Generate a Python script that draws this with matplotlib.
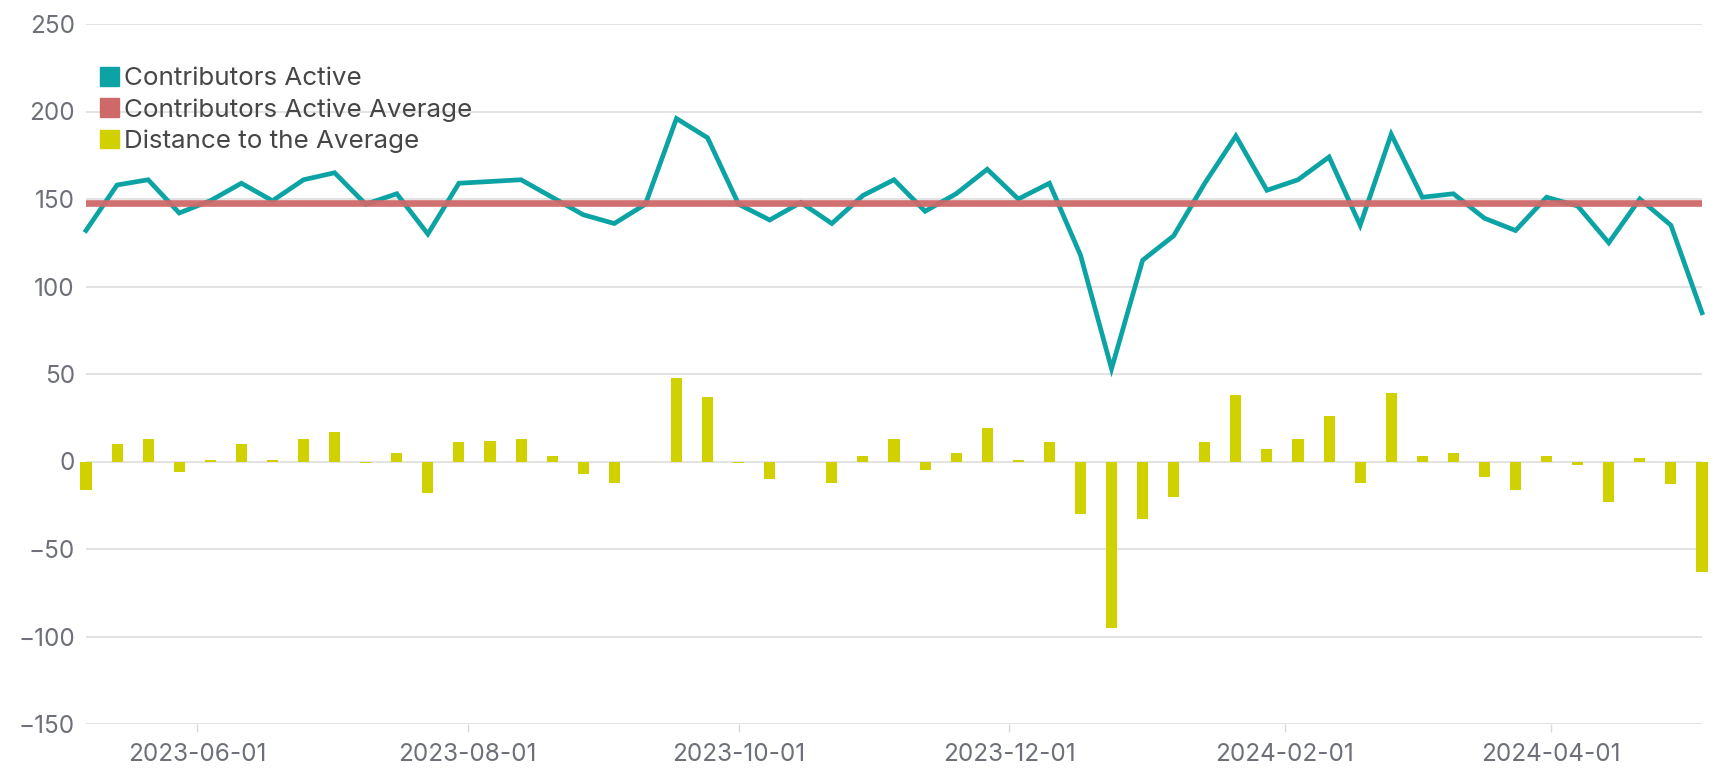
import pandas as pd
import matplotlib.pyplot as plt
import matplotlib.dates as mdates
from matplotlib.patches import Patch

plt.rcParams['font.family'] = ['Inter', 'DejaVu Sans']

# weekly values
weeks = pd.date_range('2023-05-07', '2024-05-05', freq='7D')
active = [132, 158, 161, 142, 149, 159, 149, 161, 165, 147,
          153, 130, 159, 160, 161, 151, 141, 136, 147, 196,
          185, 147, 138, 148, 136, 152, 161, 143, 153, 167,
          150, 159, 118, 53, 115, 129, 159, 186, 155, 161,
          174, 135, 187, 151, 153, 139, 132, 151, 146, 125,
          150, 135, 85]
average = 148
distance = [-16, 10, 13, -6, 1, 10, 1, 13, 17, -1,
            5, -18, 11, 12, 13, 3, -7, -12, 0, 48,
            37, -1, -10, 0, -12, 3, 13, -5, 5, 19,
            1, 11, -30, -95, -33, -20, 11, 38, 7, 13,
            26, -12, 39, 3, 5, -9, -16, 3, -2, -23,
            2, -13, -63]
labels = ['Contributors Active', 'Contributors Active Average', 'Distance to the Average']

c_line = '#0ba3a3'
c_avg = '#cf6868'
c_bar = '#d1d100'
c_txt = '#6e7079'

fig = plt.figure(figsize=(17.23, 7.69), dpi=100)
ax = fig.add_axes([86/1723, 45/769, 1616/1723, 700/769])

ax.bar(weeks, distance, width=2.5, color=c_bar, clip_on=False, zorder=2)
ax.plot(weeks, active, color=c_line, lw=3.4, solid_joinstyle='miter', clip_on=False, zorder=3)
ax.plot([weeks[0], weeks[-1]], [average, average], color=c_avg, lw=4.8, alpha=0.95, zorder=4)

ax.set_xlim(weeks[0], weeks[-1])
ax.set_ylim(-150, 250)
ax.set_yticks(range(-150, 251, 50))
ax.xaxis.set_major_locator(mdates.MonthLocator(bymonth=[2, 4, 6, 8, 10, 12]))
ax.xaxis.set_major_formatter(mdates.DateFormatter('%Y-%m-%d'))

ax.grid(axis='y', color='#e0e0e0', lw=1.3, zorder=0)
for s in ax.spines.values():
    s.set_visible(False)
ax.tick_params(axis='y', length=0, pad=8, labelsize=17.5, labelcolor=c_txt)
ax.tick_params(axis='x', length=6, width=1, color='#d9d9d9', pad=8, labelsize=17.5, labelcolor=c_txt)

handles = [Patch(color=c_line), Patch(color=c_avg), Patch(color=c_bar)]
fig.legend(handles, labels, loc='upper left', bbox_to_anchor=(100/1723, 1 - 67/769),
           frameon=False, fontsize=18.7, handlelength=0.72, handleheight=0.72,
           handletextpad=0.2, labelspacing=0.3, borderpad=0, borderaxespad=0,
           labelcolor='#464646')

fig.savefig('out.png', dpi=100)
